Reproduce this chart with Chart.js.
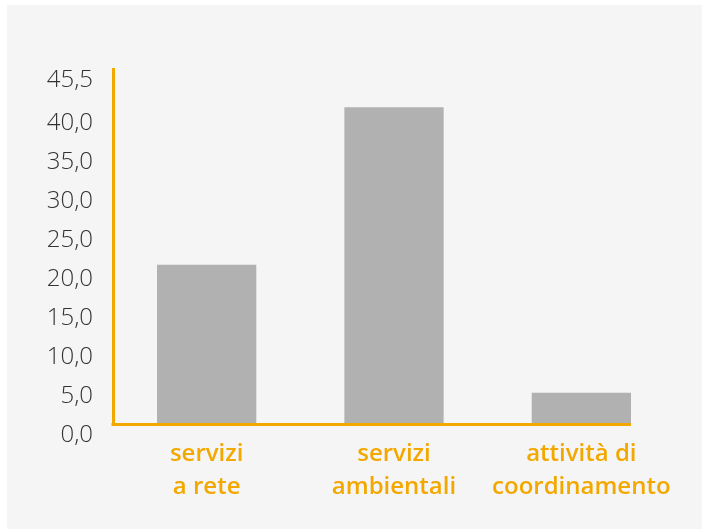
<!DOCTYPE html>
<html>
<head>
<meta charset="utf-8">
<script src="https://cdn.jsdelivr.net/npm/chart.js@4"></script>
<style>
  html, body { margin: 0; padding: 0; background: #ffffff; }
  #panel { position: absolute; left: 7px; top: 5px; width: 695px; height: 524px; background: #f5f5f5; }
  #chart { display: block; }
</style>
</head>
<body>
<div id="panel"><canvas id="chart" width="695" height="524"></canvas></div>
<script>
const categories = [['servizi', 'a rete'], ['servizi', 'ambientali'], ['attività di', 'coordinamento']];
const values = [20.4, 40.6, 4.0];
const yTicks = [0, 5, 10, 15, 20, 25, 30, 35, 40, 45.5];

const ORANGE = '#f3a800';
const BAR = '#b1b1b1';

// linea asse x: da sinistra fino al bordo destro dell'ultima barra
const xAxisLine = {
  id: 'xAxisLine',
  afterDatasetsDraw(chart) {
    const bars = chart.getDatasetMeta(0).data;
    const last = bars[bars.length - 1];
    const y0 = chart.scales.y.getPixelForValue(0);
    const ctx = chart.ctx;
    ctx.save();
    ctx.strokeStyle = ORANGE;
    ctx.lineWidth = 3;
    ctx.beginPath();
    ctx.moveTo(chart.chartArea.left - 1.5, y0 + 0.5);
    ctx.lineTo(last.x + last.width / 2, y0 + 0.5);
    ctx.stroke();
    ctx.restore();
  }
};

new Chart(document.getElementById('chart'), {
  type: 'bar',
  data: {
    labels: categories,
    datasets: [{
      data: values,
      backgroundColor: BAR,
      borderWidth: 0,
      categoryPercentage: 1,
      barPercentage: 0.53,
    }],
  },
  plugins: [xAxisLine],
  options: {
    responsive: false,
    animation: false,
    layout: { padding: { top: 64, right: 27, left: 0, bottom: 0 } },
    plugins: { legend: { display: false }, tooltip: { enabled: false } },
    scales: {
      x: {
        grid: { display: false, drawTicks: false },
        border: { display: false },
        ticks: {
          color: ORANGE,
          padding: 13,
          maxRotation: 0,
          font: { family: "'Open Sans', sans-serif", size: 24, weight: '600', lineHeight: 1.4 },
        },
        afterFit: (s) => { s.height = 105; },
      },
      y: {
        min: 0,
        max: 45.5,
        grid: { display: false, drawTicks: false },
        border: { display: true, color: ORANGE, width: 3 },
        afterBuildTicks: (s) => { s.ticks = yTicks.map(v => ({ value: v })); },
        afterFit: (s) => { s.width = 106; },
        ticks: {
          color: '#333333',
          padding: 20,
          labelOffset: 11,
          font: { family: "'Open Sans', sans-serif", size: 24, weight: '300' },
          callback: (v) => v.toFixed(1).replace('.', ','),
        },
      },
    },
  },
});
</script>
</body>
</html>
